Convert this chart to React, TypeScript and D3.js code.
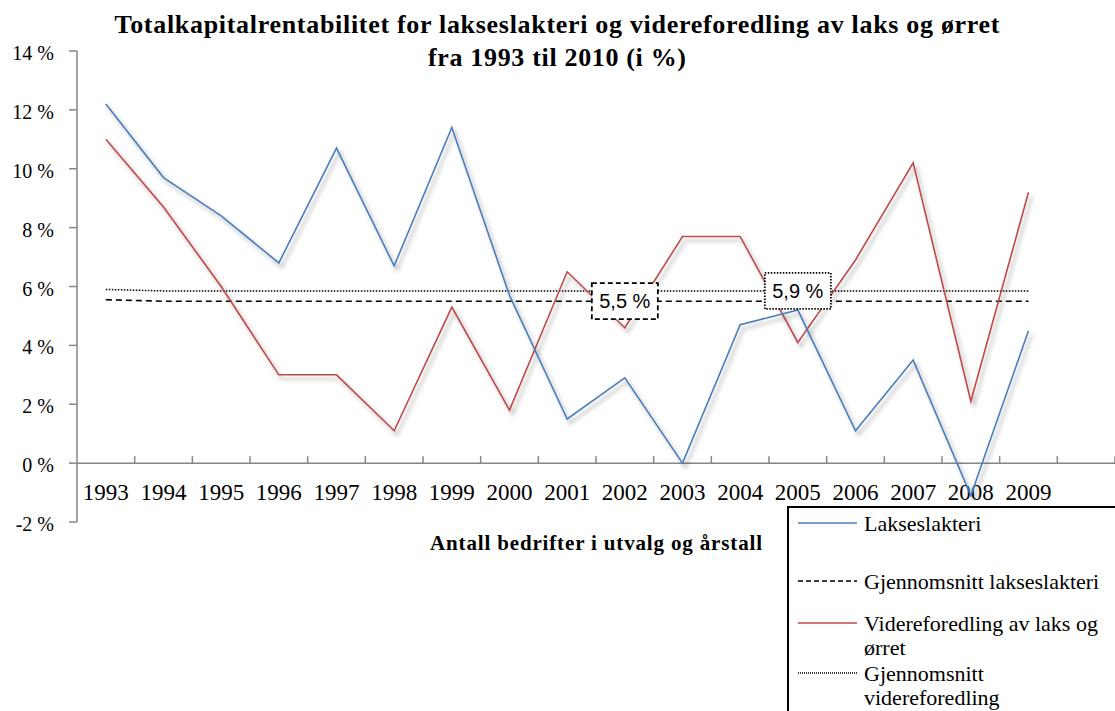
import * as d3 from "d3";

const WIDTH = 1115;
const HEIGHT = 711;
const PLOT = { left: 77, right: 1115, top: 51, bottom: 522 };

// x categories (the last band is empty, 2010 has no values)
const xLabels = ["1993", "1994", "1995", "1996", "1997", "1998", "1999", "2000", "2001", "2002", "2003", "2004", "2005", "2006", "2007", "2008", "2009", ""];
const years = xLabels.slice(0, 17);

const lakseslakteri = [12.2, 9.7, 8.4, 6.8, 10.7, 6.7, 11.4, 5.7, 1.5, 2.9, 0.0, 4.7, 5.2, 1.1, 3.5, -1.1, 4.5];
const videreforedling = [11.0, 8.7, 6.0, 3.0, 3.0, 1.1, 5.3, 1.8, 6.5, 4.6, 7.7, 7.7, 4.1, 6.9, 10.2, 2.1, 9.2];
const snittLakseslakteri = [5.55, 5.5, 5.5, 5.5, 5.5, 5.5, 5.5, 5.5, 5.5, 5.5, 5.5, 5.5, 5.5, 5.5, 5.5, 5.5, 5.5];
const snittVidereforedling = [5.9, 5.85, 5.85, 5.85, 5.85, 5.85, 5.85, 5.85, 5.85, 5.85, 5.85, 5.85, 5.85, 5.85, 5.85, 5.85, 5.85];

const yTicks = [-2, 0, 2, 4, 6, 8, 10, 12, 14];
const snittLabels = [
  { year: "2002", value: 5.5, text: "5,5 %", dash: "5,3" },
  { year: "2005", value: 5.85, text: "5,9 %", dash: "1.5,1.5" },
];

const SERIF = "'Liberation Serif', 'Times New Roman', serif";
const SANS = "'Liberation Sans', Arial, sans-serif";
const AXIS = "#868686";
const BLUE = "#4A7EBB";
const RED = "#BE4B48";

const App = () => {
  const x = d3.scaleBand<string>().domain(xLabels).range([PLOT.left, PLOT.right]);
  const y = d3.scaleLinear().domain([-2, 14]).range([PLOT.bottom, PLOT.top]);
  const cx = (yr: string) => (x(yr) ?? 0) + x.bandwidth() / 2;

  const line = d3
    .line<number>()
    .x((_, i) => cx(years[i]))
    .y((d) => y(d));

  const legend = [
    { lines: ["Lakseslakteri"], color: BLUE, dash: "none", y: 523 },
    { lines: ["Gjennomsnitt lakseslakteri"], color: "#000", dash: "5,3", y: 581 },
    { lines: ["Videreforedling av laks og", "ørret"], color: RED, dash: "none", y: 623 },
    { lines: ["Gjennomsnitt", "videreforedling"], color: "#000", dash: "1,1", y: 673 },
  ];

  return (
    <svg
      width={WIDTH}
      height={HEIGHT}
      style={{ position: "absolute", left: 0, top: 0, background: "#fff" }}
    >
      <defs>
        <filter id="shadow" x="-10%" y="-10%" width="125%" height="130%">
          <feDropShadow dx="3" dy="4" stdDeviation="2.2" floodColor="#000" floodOpacity="0.35" />
        </filter>
      </defs>

      {/* title */}
      <text x={557} y={33} textAnchor="middle" fontFamily={SERIF} fontWeight="bold" fontSize={26} textLength={885}>
        Totalkapitalrentabilitet  for lakseslakteri og videreforedling av laks og ørret
      </text>
      <text x={557} y={66} textAnchor="middle" fontFamily={SERIF} fontWeight="bold" fontSize={26} textLength={258}>
        fra 1993 til  2010 (i %)
      </text>

      {/* y axis */}
      <line x1={PLOT.left} x2={PLOT.left} y1={PLOT.top} y2={PLOT.bottom} stroke={AXIS} strokeWidth={1.5} />
      {yTicks.map((t) => (
        <g key={t}>
          <line x1={PLOT.left - 8} x2={PLOT.left} y1={y(t)} y2={y(t)} stroke={AXIS} strokeWidth={1.5} />
          <text x={54} y={y(t) + 9} textAnchor="end" fontFamily={SERIF} fontSize={20}>
            {`${t} %`}
          </text>
        </g>
      ))}

      {/* x axis */}
      <line x1={PLOT.left} x2={PLOT.right} y1={y(0)} y2={y(0)} stroke={AXIS} strokeWidth={1.5} />
      {xLabels.map((l) => (
        <line
          key={"t" + l}
          x1={(x(l) ?? 0) + x.bandwidth()}
          x2={(x(l) ?? 0) + x.bandwidth()}
          y1={y(0) - 7}
          y2={y(0)}
          stroke={AXIS}
          strokeWidth={1.5}
        />
      ))}
      {years.map((l) => (
        <text key={l} x={cx(l)} y={500} textAnchor="middle" fontFamily={SERIF} fontSize={23}>
          {l}
        </text>
      ))}
      <text x={596} y={550} textAnchor="middle" fontFamily={SERIF} fontWeight="bold" fontSize={21} textLength={332}>
        Antall bedrifter i utvalg og årstall
      </text>

      {/* average lines */}
      <path d={line(snittVidereforedling) ?? ""} fill="none" stroke="#000" strokeWidth={1.5} strokeDasharray="1.5,1.5" />
      <path d={line(snittLakseslakteri) ?? ""} fill="none" stroke="#000" strokeWidth={1.6} strokeDasharray="6,4" />

      {/* series */}
      <path d={line(videreforedling) ?? ""} fill="none" stroke={RED} strokeWidth={1.6} filter="url(#shadow)" />
      <path d={line(lakseslakteri) ?? ""} fill="none" stroke={BLUE} strokeWidth={1.6} filter="url(#shadow)" />

      {/* data labels for the averages */}
      {snittLabels.map((d) => (
        <g key={d.text}>
          <rect
            x={cx(d.year) - 33}
            y={y(d.value) - 18}
            width={66}
            height={36}
            fill="#fff"
            stroke="#000"
            strokeWidth={1.8}
            strokeDasharray={d.dash}
          />
          <text x={cx(d.year)} y={y(d.value) + 7} textAnchor="middle" fontFamily={SANS} fontSize={20}>
            {d.text}
          </text>
        </g>
      ))}

      {/* legend */}
      <rect x={788} y={507} width={340} height={220} fill="#fff" stroke="#000" strokeWidth={2} />
      {legend.map((d) => (
        <g key={d.lines[0]}>
          <line
            x1={798}
            x2={857}
            y1={d.y}
            y2={d.y}
            stroke={d.color}
            strokeWidth={d.dash === "1,1" ? 1.3 : 1.6}
            strokeDasharray={d.dash}
          />
          {d.lines.map((t, i) => (
            <text key={t} x={864} y={d.y + 8 + i * 24} fontFamily={SERIF} fontSize={22}>
              {t}
            </text>
          ))}
        </g>
      ))}
    </svg>
  );
};

export default App;
